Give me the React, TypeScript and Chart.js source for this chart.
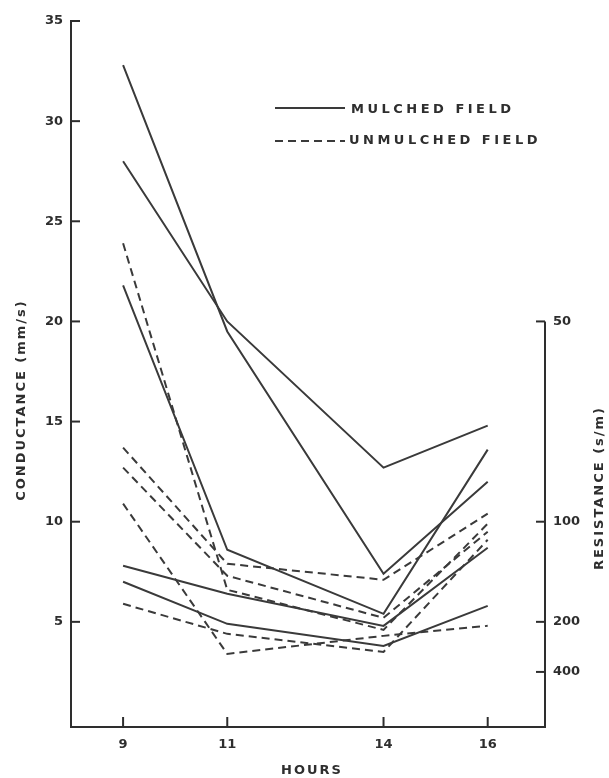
import React, { useEffect, useRef } from "react";
import { Chart, registerables } from "chart.js";

Chart.register(...registerables);

const hours = [9, 11, 14, 16];
const hourTicks = [9, 11, 14, 16];
const conductanceTicks = [5, 10, 15, 20, 25, 30, 35];
const resistanceTicks = [50, 100, 200, 400];

const mulched1 = [32.8, 19.5, 7.4, 12.0];
const mulched2 = [28.0, 20.0, 12.7, 14.8];
const mulched3 = [21.8, 8.6, 5.4, 13.6];
const mulched4 = [7.8, 6.4, 4.8, 8.7];
const mulched5 = [7.0, 4.9, 3.8, 5.8];

const unmulched1 = [23.9, 6.6, 4.6, 9.9];
const unmulched2 = [13.7, 7.9, 7.1, 10.4];
const unmulched3 = [12.7, 7.3, 5.2, 9.5];
const unmulched4 = [10.9, 3.4, 4.3, 4.8];
const unmulched5 = [5.9, 4.4, 3.5, 9.1];

const mulchedSeries = [mulched1, mulched2, mulched3, mulched4, mulched5];
const unmulchedSeries = [unmulched1, unmulched2, unmulched3, unmulched4, unmulched5];

const legendLabels = ["MULCHED FIELD", "UNMULCHED FIELD"];
const yTitle = "CONDUCTANCE (mm/s)";
const y2Title = "RESISTANCE (s/m)";
const xTitle = "HOURS";

const INK = "#2e2e2e";
const LINE = "#3a3a3a";
const DASH = [8, 5];
const FONT = "DejaVu Sans";

const overlay = {
  id: "overlay",
  afterDraw(chart: any) {
    const { ctx } = chart;
    const x = chart.scales.x;
    const y = chart.scales.y;
    ctx.save();
    ctx.strokeStyle = INK;
    ctx.lineWidth = 2;
    ctx.setLineDash([]);
    conductanceTicks.forEach((v) => {
      const py = y.getPixelForValue(v);
      ctx.beginPath();
      ctx.moveTo(x.left, py);
      ctx.lineTo(x.left + 9, py);
      ctx.stroke();
    });
    hourTicks.forEach((h) => {
      const px = x.getPixelForValue(h);
      ctx.beginPath();
      ctx.moveTo(px, y.bottom);
      ctx.lineTo(px, y.bottom - 10);
      ctx.stroke();
    });
    const rTop = y.getPixelForValue(1000 / resistanceTicks[0]);
    ctx.beginPath();
    ctx.moveTo(x.right, rTop);
    ctx.lineTo(x.right, y.bottom + 1);
    ctx.stroke();
    resistanceTicks.forEach((r) => {
      const py = y.getPixelForValue(1000 / r);
      ctx.beginPath();
      ctx.moveTo(x.right, py);
      ctx.lineTo(x.right - 9, py);
      ctx.stroke();
    });

    ctx.lineWidth = 2;
    ctx.strokeStyle = LINE;
    ctx.beginPath();
    ctx.moveTo(275, 108);
    ctx.lineTo(345, 108);
    ctx.stroke();
    ctx.setLineDash(DASH);
    ctx.beginPath();
    ctx.moveTo(275, 141);
    ctx.lineTo(345, 141);
    ctx.stroke();
    ctx.setLineDash([]);
    ctx.fillStyle = INK;
    ctx.font = `bold 13px "${FONT}"`;
    ctx.textBaseline = "middle";
    ctx.textAlign = "left";
    (ctx as any).letterSpacing = "3.5px";
    ctx.fillText(legendLabels[0], 351, 110);
    ctx.fillText(legendLabels[1], 349, 141);

    ctx.font = `bold 13px "${FONT}"`;
    (ctx as any).letterSpacing = "2px";
    ctx.textAlign = "center";
    ctx.save();
    ctx.translate(22, 400);
    ctx.rotate(-Math.PI / 2);
    ctx.fillText(yTitle, 0, 0);
    ctx.restore();
    ctx.save();
    ctx.translate(600, 488);
    ctx.rotate(-Math.PI / 2);
    ctx.fillText(y2Title, 0, 0);
    ctx.restore();
    ctx.fillText(xTitle, 312, 771);
    ctx.restore();
  },
};

export default function App() {
  const ref = useRef<HTMLCanvasElement | null>(null);
  useEffect(() => {
    if (!ref.current) return;
    const datasets: any[] = [];
    mulchedSeries.forEach((s, i) => {
      datasets.push({
        label: "Mulched " + (i + 1),
        data: s.map((v, j) => ({ x: hours[j], y: v })),
        borderColor: LINE,
        borderWidth: 2,
        pointRadius: 0,
        tension: 0,
        fill: false,
      });
    });
    unmulchedSeries.forEach((s, i) => {
      datasets.push({
        label: "Unmulched " + (i + 1),
        data: s.map((v, j) => ({ x: hours[j], y: v })),
        borderColor: LINE,
        borderWidth: 2,
        borderDash: DASH,
        pointRadius: 0,
        tension: 0,
        fill: false,
      });
    });
    const tickFont = { family: FONT, size: 13, weight: "bold" as const };
    const chart = new Chart(ref.current, {
      type: "line",
      data: { datasets },
      plugins: [overlay],
      options: {
        animation: false,
        responsive: false,
        devicePixelRatio: 1,
        layout: { padding: { top: 21, left: 0, right: 0, bottom: 0 } },
        plugins: { legend: { display: false }, tooltip: { enabled: false } },
        scales: {
          x: {
            type: "linear",
            min: 8,
            max: 17.1,
            afterBuildTicks: (s: any) => {
              s.ticks = hourTicks.map((v) => ({ value: v }));
            },
            afterFit: (s: any) => {
              s.height = 51;
            },
            grid: { display: false, drawTicks: false },
            border: { display: true, color: INK, width: 2 },
            ticks: { color: INK, font: tickFont, padding: 10, maxRotation: 0, autoSkip: false },
          },
          y: {
            type: "linear",
            position: "left",
            min: -0.25,
            max: 35,
            afterBuildTicks: (s: any) => {
              s.ticks = conductanceTicks.map((v) => ({ value: v }));
            },
            afterFit: (s: any) => {
              s.width = 71;
            },
            grid: { display: false, drawTicks: false },
            border: { display: true, color: INK, width: 2 },
            ticks: { color: INK, font: tickFont, padding: 8, autoSkip: false },
          },
          y2: {
            type: "linear",
            position: "right",
            min: -0.25,
            max: 35,
            afterBuildTicks: (s: any) => {
              s.ticks = resistanceTicks.map((r) => ({ value: 1000 / r }));
            },
            afterFit: (s: any) => {
              s.width = 64;
            },
            grid: { display: false, drawTicks: false },
            border: { display: false },
            ticks: {
              color: INK,
              font: tickFont,
              padding: 8,
              autoSkip: false,
              callback: (v: any) => String(Math.round(1000 / Number(v))),
            },
          },
        },
      },
    });
    return () => chart.destroy();
  }, []);
  return (
    <div style={{ position: "fixed", left: 0, top: 0, width: 609, height: 778, background: "#fff" }}>
      <canvas ref={ref} width={609} height={778} style={{ display: "block" }} />
    </div>
  );
}
